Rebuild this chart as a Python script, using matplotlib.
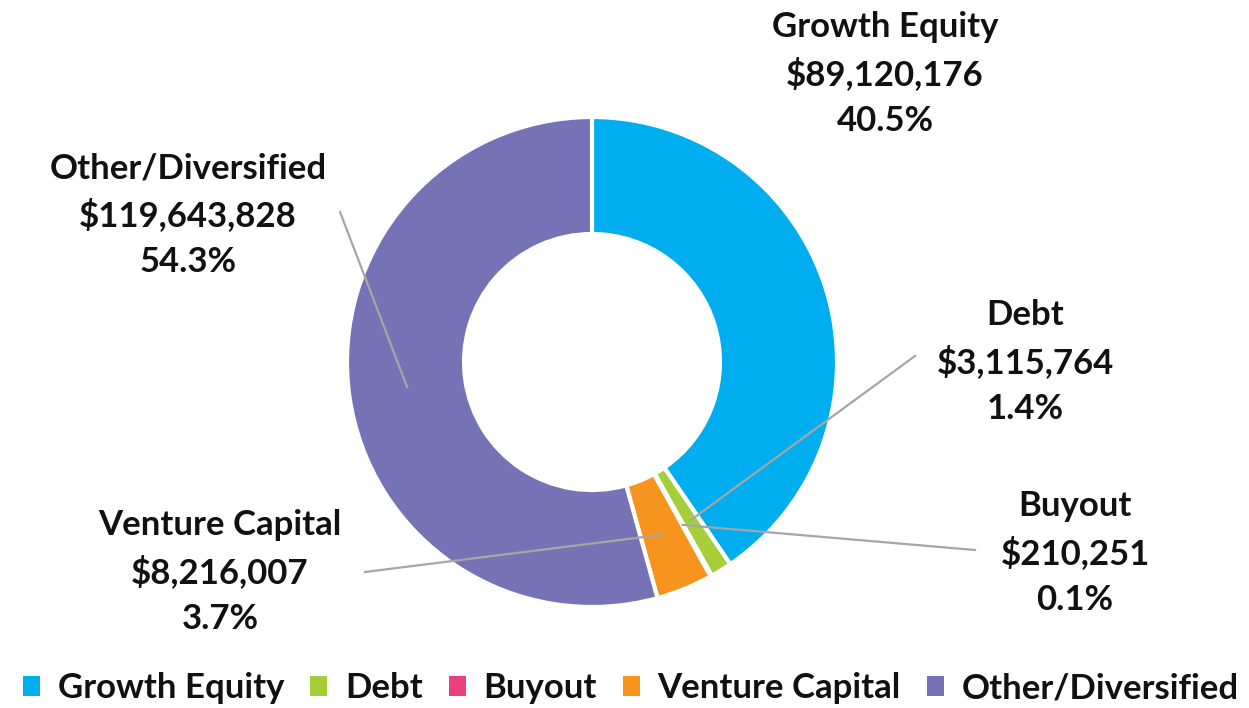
import numpy as np
import matplotlib.pyplot as plt

# portfolio split by strategy
categories = ['Growth Equity', 'Debt', 'Buyout', 'Venture Capital', 'Other/Diversified']
amounts = [89120176, 3115764, 210251, 8216007, 119643828]
shares = [40.5, 1.4, 0.1, 3.7, 54.3]
colors = ['#00AEEF', '#A6CE39', '#E9417F', '#F7941D', '#7573B6']

# label centres (pixels from top-left) and where the leader line stops
label_xy = [(885, 74), (1025, 362), (1075, 553), (220, 572), (188, 215)]
leader_end = [None, (915, 356), (975, 550), (365, 572), (340, 212)]

W, H = 1249, 708
fig = plt.figure(figsize=(W / 100, H / 100), dpi=100)
ax = fig.add_axes([0, 0, 1, 1])

cx, cy = 592, H - 362
r_out, r_in = 245, 128
wedges, _ = ax.pie(amounts, colors=colors, startangle=90, counterclock=False,
                   radius=r_out, center=(cx, cy), frame=True,
                   wedgeprops=dict(width=r_out - r_in, edgecolor='white', linewidth=3))
ax.set_xlim(0, W)
ax.set_ylim(0, H)
ax.set_aspect('equal')
ax.axis('off')

font = dict(family=['Lato', 'DejaVu Sans'], fontweight='bold', fontsize=25, color='#111111')
r_mid = (r_out + r_in) / 2

for i, w in enumerate(wedges):
    lx, ly = label_xy[i]
    lines = [categories[i], '${:,}'.format(amounts[i]), '{:.1f}%'.format(shares[i])]
    for k, s in enumerate(lines):
        ax.text(lx, H - (ly + (k - 1) * 47), s, ha='center', va='center', **font)
    if leader_end[i] is not None:
        th = np.deg2rad((w.theta1 + w.theta2) / 2)
        sx, sy = cx + r_mid * np.cos(th), cy + r_mid * np.sin(th)
        ex, ey = leader_end[i]
        ax.plot([sx, ex], [sy, H - ey], color='#A6A6A6', lw=1.6, zorder=5)

leg = fig.legend(wedges, categories, loc='center', bbox_to_anchor=(0.505, 1 - 688 / H),
                 ncol=5, frameon=False, handlelength=0.5, handleheight=0.5,
                 handletextpad=0.5, columnspacing=0.75,
                 prop=dict(family=['Lato', 'DejaVu Sans'], weight='bold', size=25))
for t in leg.get_texts():
    t.set_color('#111111')
for p in leg.get_patches():
    p.set_edgecolor('none')

fig.savefig('out.png', dpi=100, facecolor='white')
